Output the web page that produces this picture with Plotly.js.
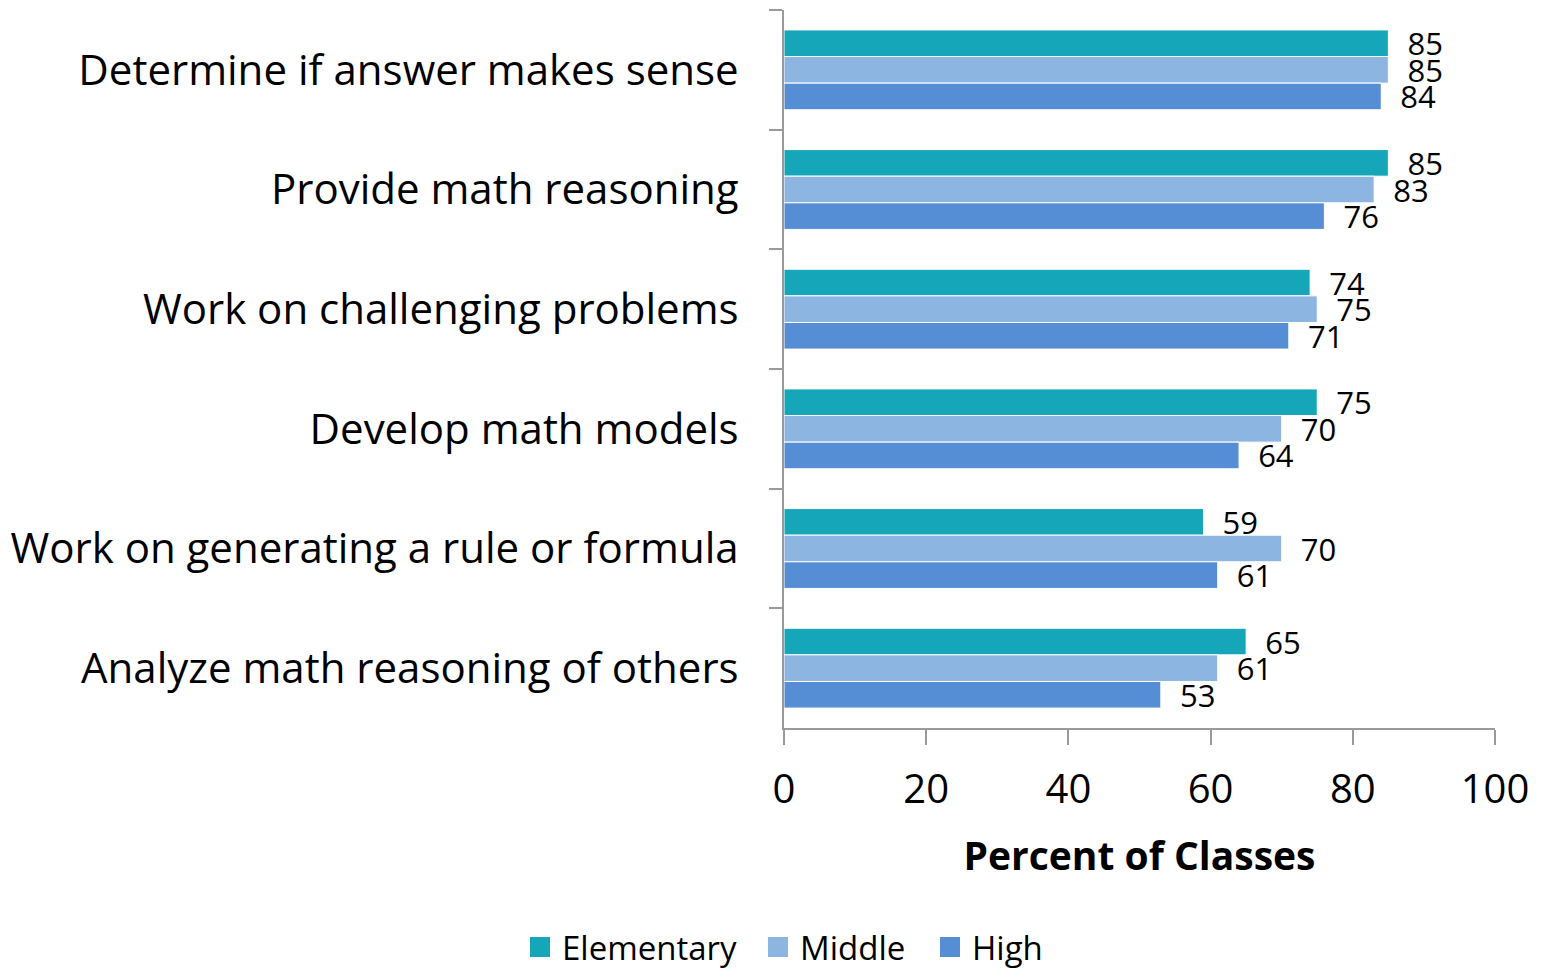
<!DOCTYPE html>
<html>
<head>
<meta charset="utf-8">
<script src="https://cdn.plot.ly/plotly-3.0.1.min.js"></script>
<style>html,body{margin:0;padding:0;background:#fff;}#chart{width:1548px;height:969px;}</style>
</head>
<body>
<div id="chart"></div>
<script>
const categories = [
  "Determine if answer makes sense",
  "Provide math reasoning",
  "Work on challenging problems",
  "Develop math models",
  "Work on generating a rule or formula",
  "Analyze math reasoning of others"
];
const seriesNames = ["Elementary", "Middle", "High"];
const elementary = [85, 85, 74, 75, 59, 65];
const middle = [85, 83, 75, 70, 70, 61];
const high = [84, 76, 71, 64, 61, 53];
const xTicks = [0, 20, 40, 60, 80, 100];
const colors = ["#15A6B9", "#8DB5E2", "#558ED5"];

const FONT = "'Open Sans', 'Noto Sans', sans-serif";
function trace(name, vals, color) {
  return {
    type: "bar", orientation: "h", name: name,
    y: categories, x: vals,
    marker: {color: color, line: {color: "#ffffff", width: 1}},
    text: vals.map(v => "\u00a0\u00a0" + v), textposition: "outside",
    textfont: {family: FONT, size: 31, color: "#000"},
    constraintext: "none", cliponaxis: false,
    showlegend: false, hoverinfo: "x+name"
  };
}
const data = [
  trace(seriesNames[0], elementary, colors[0]),
  trace(seriesNames[1], middle, colors[1]),
  trace(seriesNames[2], high, colors[2])
];

// Custom legend (larger swatches than Plotly's built-in legend allows)
const plotL = 784, plotR = 1495, plotT = 10, plotB = 728;
const px = p => (p - plotL) / (plotR - plotL);
const py = p => (plotB - p) / (plotB - plotT);
const legendSwatchX = [530, 768, 940];
const legendY = 947;
const shapes = [], annotations = [];
seriesNames.forEach((n, i) => {
  shapes.push({type: "rect", xref: "paper", yref: "paper",
    x0: px(legendSwatchX[i]), x1: px(legendSwatchX[i] + 20),
    y0: py(legendY + 10), y1: py(legendY - 10),
    fillcolor: colors[i], line: {width: 0}});
  annotations.push({xref: "paper", yref: "paper", x: px(legendSwatchX[i] + 30), y: py(legendY),
    xanchor: "left", yanchor: "middle", showarrow: false, text: n,
    font: {family: FONT, size: 33, color: "#000"}});
});

const layout = {
  width: 1548, height: 969,
  margin: {l: 784, r: 53, t: 10, b: 241},
  barmode: "group", bargap: 0.333, bargroupgap: 0,
  paper_bgcolor: "#fff", plot_bgcolor: "#fff",
  font: {family: FONT, color: "#000"},
  xaxis: {
    range: [0, 100], tickvals: xTicks, ticktext: xTicks.map(String),
    showgrid: false, zeroline: false,
    showline: true, linecolor: "#9a9a9a", linewidth: 2,
    ticks: "outside", ticklen: 15, tickcolor: "#9a9a9a", tickwidth: 2,
    ticklabelstandoff: 10,
    tickfont: {family: FONT, size: 40, color: "#000"},
    title: {text: "<b>Percent of Classes</b>", font: {family: FONT, size: 39, color: "#000"}, standoff: 29}
  },
  yaxis: {
    autorange: "reversed", type: "category",
    showgrid: false, zeroline: false,
    showline: true, linecolor: "#9a9a9a", linewidth: 2,
    ticks: "outside", tickson: "boundaries", ticklen: 13, tickcolor: "#9a9a9a", tickwidth: 2,
    ticklabelstandoff: 35,
    tickfont: {family: FONT, size: 42, color: "#000"}
  },
  showlegend: false,
  shapes: shapes,
  annotations: annotations
};
Plotly.newPlot("chart", data, layout, {staticPlot: true});
</script>
</body>
</html>
